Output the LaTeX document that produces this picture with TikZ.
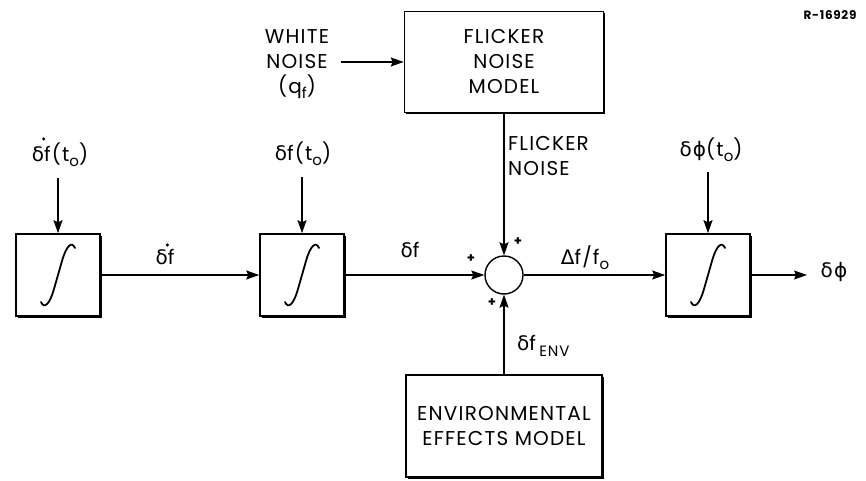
\documentclass[tikz,border=0pt]{standalone}
\usepackage{fontspec}
\setmainfont[LetterSpace=6]{Poppins}
\newfontfamily\gkfont[LetterSpace=6]{DejaVu Sans}
\usetikzlibrary{arrows.meta,shadows}
\newcommand\mydelta{{\gkfont δ}}
\newcommand\myDelta{{\gkfont Δ}}
\newcommand\myphi{{\gkfont ϕ}}
\newcommand\mysub[1]{\raisebox{-0.45ex}{\fontsize{15}{15}\selectfont #1}}
\newcommand\lblfont{\fontsize{20}{25}\selectfont}
\begin{document}
\begin{tikzpicture}[x=1pt,y=-1pt,
  every node/.style={font=\lblfont, inner sep=0pt},
  arr/.style={line width=1.2pt, -{Stealth[length=13pt,width=9pt,inset=2pt]}},
  boxsh/.style={draw, line width=1.6pt, fill=white,
     drop shadow={shadow xshift=1.6pt, shadow yshift=-1.6pt, opacity=1, fill=black}},
  intbox/.style={boxsh, minimum width=84pt, minimum height=82pt},
  modbox/.style={boxsh, minimum width=199pt, minimum height=101pt, align=center},
  sumnode/.style={draw, line width=1.4pt, circle, minimum size=38pt},
  plus/.style={font=\fontsize{13}{13}\selectfont\bfseries},
  intsym/.pic={\draw[line width=1.8pt, line cap=round]
     (-17,27) .. controls (-14,34) and (-8.5,30) .. (-4,14) -- (4,-14)
     .. controls (8.5,-30) and (14,-34) .. (17,-27);}
]
\useasboundingbox (0,0) rectangle (866,481);

% blocks
\node[intbox] (i1) at (58,275) {};
\node[intbox] (i2) at (302,275) {};
\node[intbox] (i3) at (708,275) {};
\pic at (i1) {intsym};
\pic at (i2) {intsym};
\pic at (i3) {intsym};
\node[sumnode] (s) at (504,275) {};
\node[modbox] (fl) at (504,62) {FLICKER\\NOISE\\MODEL};
\node[modbox, minimum width=196pt, minimum height=102pt] (env) at (504,426) {ENVIRONMENTAL\\EFFECTS MODEL};

% inputs
\coordinate (in1) at (58,178);
\coordinate (in2) at (302,177);
\coordinate (in3) at (708,172);
\node (l1) at (60,155) {\mydelta f(t\mysub{o})};
\fill ([xshift=12pt,yshift=4pt]l1.north west) circle (1.7pt);
\node (l2) at (303,154) {\mydelta f(t\mysub{o})};
\node (l3) at (711,150) {\mydelta\myphi(t\mysub{o})};
\draw[arr] (in1) -- (i1);
\draw[arr] (in2) -- (i2);
\draw[arr] (in3) -- (i3);

% white noise
\node[align=center] (wnl) at (297,64) {WHITE\\NOISE\\(q\mysub{f})};
\coordinate (wn) at (341,62);
\draw[arr] (wn) -- (fl.west |- wn);

% main chain
\draw[arr] (i1) -- (i2);
\draw[arr] (i2) -- (s);
\draw[arr] (s) -- (i3);
\coordinate (out) at (807,275);
\draw[arr] (i3) -- (out);
\node (lout) at (834,272) {\mydelta\myphi};

\draw[arr] (fl) -- (s);
\draw[arr] (env) -- (s);

% connector labels
\node (ldf1) at (165,257) {\mydelta f};
\fill ([xshift=12pt,yshift=4pt]ldf1.north west) circle (1.7pt);
\node (ldf2) at (410,250) {\mydelta f};
\node (ldf3) at (585,258) {\myDelta f/f\mysub{o}};
\node[align=left, anchor=west] (lfn) at (508,156) {FLICKER\\NOISE};
\node[anchor=west] (lenv) at (517,346) {\mydelta f\,\raisebox{-0.6ex}{\fontsize{15}{15}\selectfont ENV}};

% signs
\node[plus] (p1) at (518,242) {+};
\node[plus] (p2) at (471,259) {+};
\node[plus] (p3) at (492,303) {+};

\node[font=\fontsize{12}{12}\selectfont\bfseries] (rid) at (830,15) {R-16929};
\end{tikzpicture}
\end{document}
